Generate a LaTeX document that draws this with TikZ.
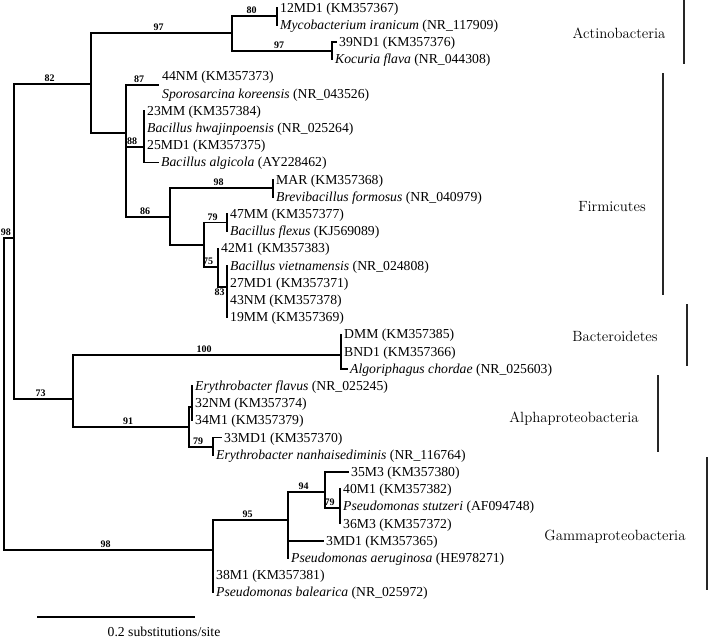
\documentclass[tikz,border=0pt]{standalone}
\usepackage{fontspec}
\newfontfamily\treefont{Liberation Serif}
\begin{document}
\begin{tikzpicture}[x=1pt, y=-1pt,
    branch/.style={line width=1.6pt, line cap=rect},
    leaf/.style={anchor=west, inner xsep=3pt, inner ysep=0pt, text height=12pt, text depth=3pt,
      font=\treefont\fontsize{13.7}{15}\selectfont},
    boot/.style={above, pos=0.75, xshift=-3pt, inner sep=1.2pt,
      font=\treefont\bfseries\fontsize{10}{10}\selectfont},
    group/.style={font=\fontsize{14.8}{16}\selectfont},
    bar/.style={line width=1.4pt, black!85}]
        \useasboundingbox (0,0) rectangle (709,638);

        % Internal nodes of the tree
        \coordinate (root) at (4,394);
        \coordinate (upper) at (14,238);
        \coordinate (firmAct) at (91,84);
        \coordinate (actino) at (232,33);
        \coordinate (myco) at (277,16);
        \coordinate (kocuria) at (332,51);
        \coordinate (firm) at (126,133);
        \coordinate (sporo) at (158,85);
        \coordinate (bacA) at (144,147);
        \coordinate (firmB) at (170,217);
        \coordinate (brevi) at (273,188);
        \coordinate (flexClade) at (204,245);
        \coordinate (flexus) at (227,222.5);
        \coordinate (viet) at (218,267);
        \coordinate (vietB) at (227,287);
        \coordinate (bactAlpha) at (73,399);
        \coordinate (bactero) at (341,355);
        \coordinate (alpha) at (189,427);
        \coordinate (eryA) at (192,407);
        \coordinate (eryB) at (213,447);
        \coordinate (gamma) at (213,550);
        \coordinate (pseudo) at (288,520);
        \coordinate (stutzA) at (325,492);
        \coordinate (stutzB) at (340,508);

        % Leaves, one row each
        \foreach \n/\x/\r/\t in {
            l0/277/0/{12MD1 (KM357367)},
            l1/277/1/{\textit{Mycobacterium iranicum} (NR\_117909)},
            l2/336/2/{39ND1 (KM357376)},
            l3/332/3/{\textit{Kocuria flava} (NR\_044308)},
            l4/159/4/{44NM (KM357373)},
            l5/159/5/{\textit{Sporosarcina koreensis} (NR\_043526)},
            l6/144/6/{23MM (KM357384)},
            l7/144/7/{\textit{Bacillus hwajinpoensis} (NR\_025264)},
            l8/144/8/{25MD1 (KM357375)},
            l9/158/9/{\textit{Bacillus algicola} (AY228462)},
            l10/273/10/{MAR (KM357368)},
            l11/273/11/{\textit{Brevibacillus formosus} (NR\_040979)},
            l12/227/12/{47MM (KM357377)},
            l13/227/13/{\textit{Bacillus flexus} (KJ569089)},
            l14/218/14/{42M1 (KM357383)},
            l15/227/15/{\textit{Bacillus vietnamensis} (NR\_024808)},
            l16/227/16/{27MD1 (KM357371)},
            l17/227/17/{43NM (KM357378)},
            l18/227/18/{19MM (KM357369)},
            l19/341/19/{DMM (KM357385)},
            l20/341/20/{BND1 (KM357366)},
            l21/347/21/{\textit{Algoriphagus chordae} (NR\_025603)},
            l22/192/22/{\textit{Erythrobacter flavus} (NR\_025245)},
            l23/192/23/{32NM (KM357374)},
            l24/192/24/{34M1 (KM357379)},
            l25/221/25/{33MD1 (KM357370)},
            l26/213/26/{\textit{Erythrobacter nanhaisediminis} (NR\_116764)},
            l27/348/27/{35M3 (KM357380)},
            l28/340/28/{40M1 (KM357382)},
            l29/340/29/{\textit{Pseudomonas stutzeri} (AF094748)},
            l30/340/30/{36M3 (KM357372)},
            l31/323/31/{3MD1 (KM357365)},
            l32/288/32/{\textit{Pseudomonas aeruginosa} (HE978271)},
            l33/213/33/{38M1 (KM357381)},
            l34/213/34/{\textit{Pseudomonas balearica} (NR\_025972)}} {
            \node[leaf] (\n) at (\x,{7.5+17.2*\r}) {\t};
        }

        % Branches without support values
        \foreach \p/\c in {myco/l0, myco/l1, kocuria/l2, kocuria/l3,
            bacA/l6, bacA/l7, bacA/l8, bacA/l9, brevi/l10, brevi/l11,
            flexus/l12, flexus/l13, viet/l14, vietB/l15, vietB/l16, vietB/l17, vietB/l18,
            bactero/l19, bactero/l20, bactero/l21, eryA/l22, eryA/l23, eryA/l24,
            eryB/l25, eryB/l26, stutzA/l27, stutzB/l28, stutzB/l29, stutzB/l30,
            pseudo/l31, pseudo/l32, gamma/l33, gamma/l34,
            firmAct/firm, firmB/flexClade, alpha/eryA} {
            \draw[branch] (\p) |- (\c);
        }

        % Branches with bootstrap values
        \draw[branch] (root) |- node[boot] (b98a) {98} (upper);
        \draw[branch] (root) |- node[boot] (b98b) {98} (gamma);
        \draw[branch] (upper) |- node[boot] (b82) {82} (firmAct);
        \draw[branch] (upper) |- node[boot] (b73) {73} (bactAlpha);
        \draw[branch] (firmAct) |- node[boot] (b97a) {97} (actino);
        \draw[branch] (actino) |- node[boot] (b80) {80} (myco);
        \draw[branch] (actino) |- node[boot] (b97b) {97} (kocuria);
        \draw[branch] (firm) |- node[boot] (b87) {87} (sporo);
        \draw[branch] (firm) |- node[boot] (b88) {88} (bacA);
        \draw[branch] (firm) |- node[boot] (b86) {86} (firmB);
        \draw[branch] (firmB) |- node[boot] (b98c) {98} (brevi);
        \draw[branch] (flexClade) |- node[boot] (b79a) {79} (flexus);
        \draw[branch] (flexClade) |- node[boot] (b75) {75} (viet);
        \draw[branch] (viet) |- node[boot, below] (b83) {83} (vietB);
        \draw[branch] (bactAlpha) |- node[boot] (b100) {100} (bactero);
        \draw[branch] (bactAlpha) |- node[boot] (b91) {91} (alpha);
        \draw[branch] (alpha) |- node[boot] (b79b) {79} (eryB);
        \draw[branch] (gamma) |- node[boot] (b95) {95} (pseudo);
        \draw[branch] (pseudo) |- node[boot] (b94) {94} (stutzA);
        \draw[branch] (stutzA) |- node[boot] (b79c) {79} (stutzB);

        % Phylum labels and bars
        \node[group] (actLbl) at (619,33) {Actinobacteria};
        \node[group] (firLbl) at (612,207) {Firmicutes};
        \node[group] (bacLbl) at (615,336) {Bacteroidetes};
        \node[group] (alpLbl) at (574,419) {Alphaproteobacteria};
        \node[group] (gamLbl) at (615,537) {Gammaproteobacteria};
        \draw[bar] (684,0) -- (684,64);
        \draw[bar] (663,73) -- (663,295);
        \draw[bar] (687,304) -- (687,366);
        \draw[bar] (658,375) -- (658,452);
        \draw[bar] (707,457) -- (707,590);

        % Scale bar
        \draw[branch, line cap=butt] (37,617) -- (195,617);
        \node[leaf, anchor=center] (scaleLbl) at (164,632) {0.2 substitutions/site};
    \end{tikzpicture}
\end{document}
